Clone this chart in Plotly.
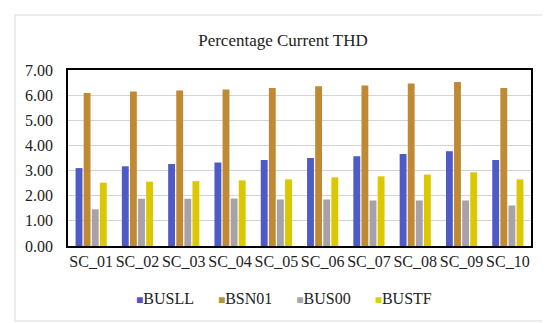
import plotly.graph_objects as go

categories = ["SC_01", "SC_02", "SC_03", "SC_04", "SC_05", "SC_06", "SC_07", "SC_08", "SC_09", "SC_10"]
busll = [3.10, 3.17, 3.26, 3.32, 3.42, 3.50, 3.57, 3.66, 3.77, 3.42]
bsn01 = [6.09, 6.14, 6.18, 6.22, 6.28, 6.35, 6.38, 6.46, 6.52, 6.28]
bus00 = [1.46, 1.88, 1.88, 1.89, 1.85, 1.85, 1.81, 1.81, 1.81, 1.61]
bustf = [2.52, 2.56, 2.58, 2.61, 2.65, 2.73, 2.77, 2.84, 2.93, 2.65]

series_names = ["BUSLL", "BSN01", "BUS00", "BUSTF"]
series_values = [busll, bsn01, bus00, bustf]
series_colors = ["#4F5BC4", "#C08A35", "#A8A2A8", "#DCC800"]
legend_colors = ["#5A4FC4", "#A89A3A", "#A8A8A8", "#D4D400"]

font_family = "Liberation Serif"

fig = go.Figure()
for name, vals, color in zip(series_names, series_values, series_colors):
    fig.add_trace(go.Bar(x=categories, y=vals, name=name, marker_color=color,
                         marker_line_width=0, showlegend=False))

legend_text = "&nbsp;&nbsp;&nbsp;&nbsp;&nbsp;&nbsp;".join(
    f"<span style='color:{c};font-size:12px'>■</span>{n}"
    for n, c in zip(series_names, legend_colors)
)

fig.update_layout(
    width=550, height=323,
    margin=dict(l=60, r=27, t=62, b=85),
    paper_bgcolor="white", plot_bgcolor="white",
    font=dict(family=font_family, size=16, color="#222222"),
    title=dict(text="Percentage Current THD", x=0.5, xref="container", xanchor="center",
               y=1 - 32 / 323, yref="container", yanchor="middle",
               font=dict(family=font_family, size=17, color="#222222")),
    barmode="group", bargap=0.3, bargroupgap=0.15,
    showlegend=False,
    annotations=[dict(text=legend_text, showarrow=False, xref="paper", yref="paper",
                      x=(276 - 60) / 463, y=-(290 - 238) / 176, xanchor="center", yanchor="middle",
                      font=dict(family=font_family, size=16, color="#222222"))],
    shapes=[dict(type="rect", xref="paper", yref="paper",
                 x0=-53 / 463, x1=(543 - 60) / 463, y0=-(313 - 238) / 176, y1=(238 - 7) / 176,
                 line=dict(color="#D9D9D9", width=1), fillcolor="rgba(0,0,0,0)", layer="below")],
)
fig.update_xaxes(showline=True, linecolor="black", linewidth=1.5, mirror=True,
                 ticks="", tickfont=dict(size=16), showgrid=False)
fig.update_yaxes(range=[0, 7], dtick=1, tickformat=".2f", showline=True, linecolor="black",
                 linewidth=1.5, mirror=True, showgrid=True, gridcolor="#D4D4D4", gridwidth=1,
                 ticks="", tickfont=dict(size=16), zeroline=False, ticklabelstandoff=10)

fig.write_html("out.html")
